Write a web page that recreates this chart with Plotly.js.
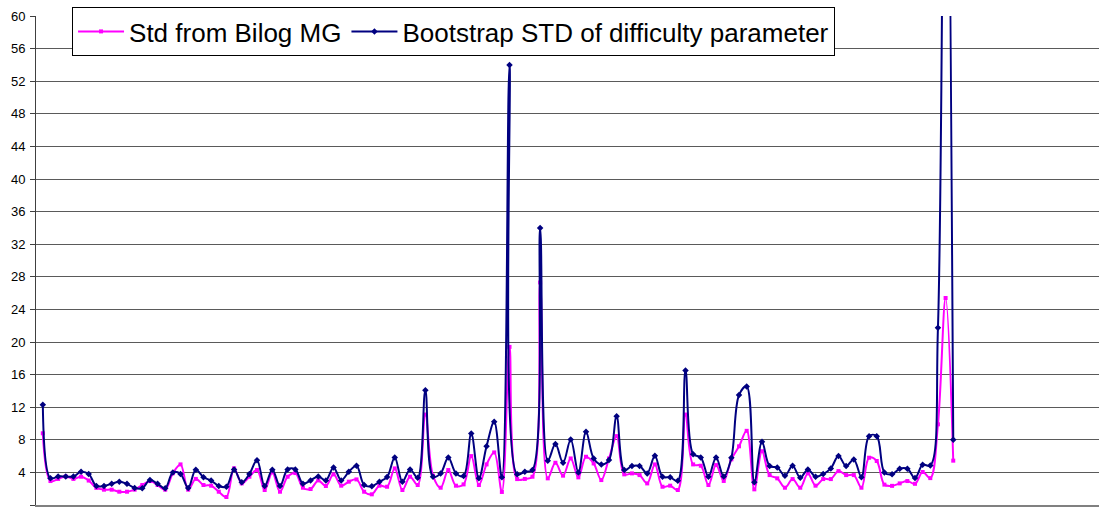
<!DOCTYPE html>
<html>
<head>
<meta charset="utf-8">
<script src="https://cdn.plot.ly/plotly-3.0.1.min.js"></script>
<style>
  html, body { margin: 0; padding: 0; background: #ffffff; }
  #chart { width: 1099px; height: 508px; }
</style>
</head>
<body>
<div id="chart"></div>
<script>
// Series names
const seriesNames = ["Std from Bilog MG", "Bootstrap STD of difficulty parameter"];

// Std from Bilog MG (pink)
const bilogStd = [
  8.8, 2.94, 3.2, 3.5, 3.2, 3.47, 3.0, 2.1, 1.88, 1.88,
  1.63, 1.63, 1.88, 2.45, 2.94, 2.45, 1.88, 3.9, 4.98, 1.88,
  3.2, 2.45, 2.37, 1.63, 0.98, 4.5, 2.65, 3.47, 4.3, 1.84,
  4.0, 1.63, 3.47, 3.92, 2.12, 1.96, 3.02, 2.33, 3.76, 2.37,
  2.86, 3.14, 1.63, 1.31, 2.37, 2.24, 4.49, 1.84, 3.47, 2.45,
  11.1, 3.6, 2.12, 4.29, 2.37, 2.53, 6.0, 2.45, 4.98, 6.45,
  1.6, 19.4, 3.18, 3.2, 3.47, 27.3, 3.27, 5.18, 3.6, 5.71,
  3.39, 5.92, 5.1, 3.06, 5.71, 8.45, 3.76, 3.88, 3.67, 2.65,
  4.98, 2.24, 2.37, 1.84, 11.1, 4.98, 4.82, 2.45, 4.9, 2.95,
  5.6, 7.2, 9.1, 1.92, 6.6, 3.67, 3.27, 2.12, 3.18, 2.12,
  3.88, 2.37, 3.18, 3.18, 4.16, 3.67, 3.67, 2.12, 5.8, 5.4,
  2.5, 2.35, 2.65, 2.94, 2.6, 4.05, 3.3, 9.9, 25.4, 5.44
];

// Bootstrap STD of difficulty parameter (navy)
const bootstrapStd = [
  12.3, 3.27, 3.5, 3.5, 3.5, 4.08, 3.8, 2.33, 2.33, 2.6,
  2.85, 2.6, 2.1, 2.05, 3.06, 2.6, 2.05, 4.0, 3.8, 2.1,
  4.33, 3.4, 3.0, 2.33, 2.25, 4.37, 2.78, 3.8, 5.5, 2.33,
  4.33, 2.33, 4.37, 4.37, 2.61, 3.02, 3.51, 3.02, 4.61, 3.02,
  4.08, 4.82, 2.45, 2.29, 2.86, 3.43, 5.84, 2.86, 4.37, 3.35,
  14.08, 3.47, 3.88, 5.84, 3.88, 3.55, 8.77, 3.27, 7.2, 10.2,
  3.4, 54.0, 3.76, 4.08, 4.29, 34.0, 5.43, 7.47, 5.18, 8.04,
  4.0, 8.98, 5.71, 4.98, 5.51, 10.9, 4.29, 4.78, 4.78, 3.88,
  6.04, 3.47, 3.39, 2.98, 16.5, 6.24, 5.84, 3.47, 5.84, 3.5,
  5.8, 13.5, 14.55, 2.78, 7.76, 4.78, 4.61, 3.59, 4.82, 3.35,
  4.37, 3.47, 3.8, 4.49, 6.0, 4.78, 5.59, 3.39, 8.45, 8.45,
  4.0, 3.76, 4.45, 4.45, 3.3, 4.95, 4.85, 21.75, 110, 8.0
];

// Item numbers (category positions)
const itemNumbers = bilogStd.map((_, i) => i + 1);

// Y tick values
const yTicks = [0, 4, 8, 12, 16, 20, 24, 28, 32, 36, 40, 44, 48, 52, 56, 60];

const fontFamily = "'Liberation Sans', Arial, sans-serif";

const traces = [
  {
    x: itemNumbers,
    y: bilogStd,
    name: seriesNames[0],
    type: "scatter",
    mode: "lines+markers",
    line: { color: "#FF00FF", width: 2, shape: "spline", smoothing: 1 },
    marker: { symbol: "square", size: 4, color: "#FF00FF" }
  },
  {
    x: itemNumbers,
    y: bootstrapStd,
    name: seriesNames[1],
    type: "scatter",
    mode: "lines+markers",
    line: { color: "#000080", width: 2, shape: "spline", smoothing: 1 },
    marker: { symbol: "diamond", size: 5, color: "#000080" }
  }
];

const layout = {
  width: 1099,
  height: 508,
  margin: { l: 36, r: 0, t: 16, b: 3, pad: 0 },
  paper_bgcolor: "#ffffff",
  plot_bgcolor: "#ffffff",
  font: { family: fontFamily, color: "#000000" },
  showlegend: true,
  legend: {
    orientation: "h",
    x: 0.0339,
    y: 1.0184,
    xanchor: "left",
    yanchor: "top",
    bgcolor: "#ffffff",
    bordercolor: "#000000",
    borderwidth: 1,
    font: { family: fontFamily, size: 26, color: "#000000" },
    itemwidth: 46
  },
  xaxis: {
    range: [0.11, 139.05],
    showgrid: false,
    zeroline: false,
    showline: true,
    linecolor: "#808080",
    linewidth: 2,
    showticklabels: false,
    ticks: "",
    fixedrange: true
  },
  yaxis: {
    range: [0, 60],
    tickvals: yTicks,
    ticktext: yTicks.map(String),
    showgrid: true,
    gridcolor: "#5a5a5a",
    gridwidth: 1,
    zeroline: false,
    showline: true,
    linecolor: "#404040",
    linewidth: 1,
    ticks: "outside",
    ticklen: 5,
    tickcolor: "#404040",
    tickfont: { family: fontFamily, size: 13, color: "#000000" },
    ticklabelstandoff: 2,
    fixedrange: true
  }
};

Plotly.newPlot("chart", traces, layout, { displayModeBar: false, staticPlot: true });
</script>
</body>
</html>
